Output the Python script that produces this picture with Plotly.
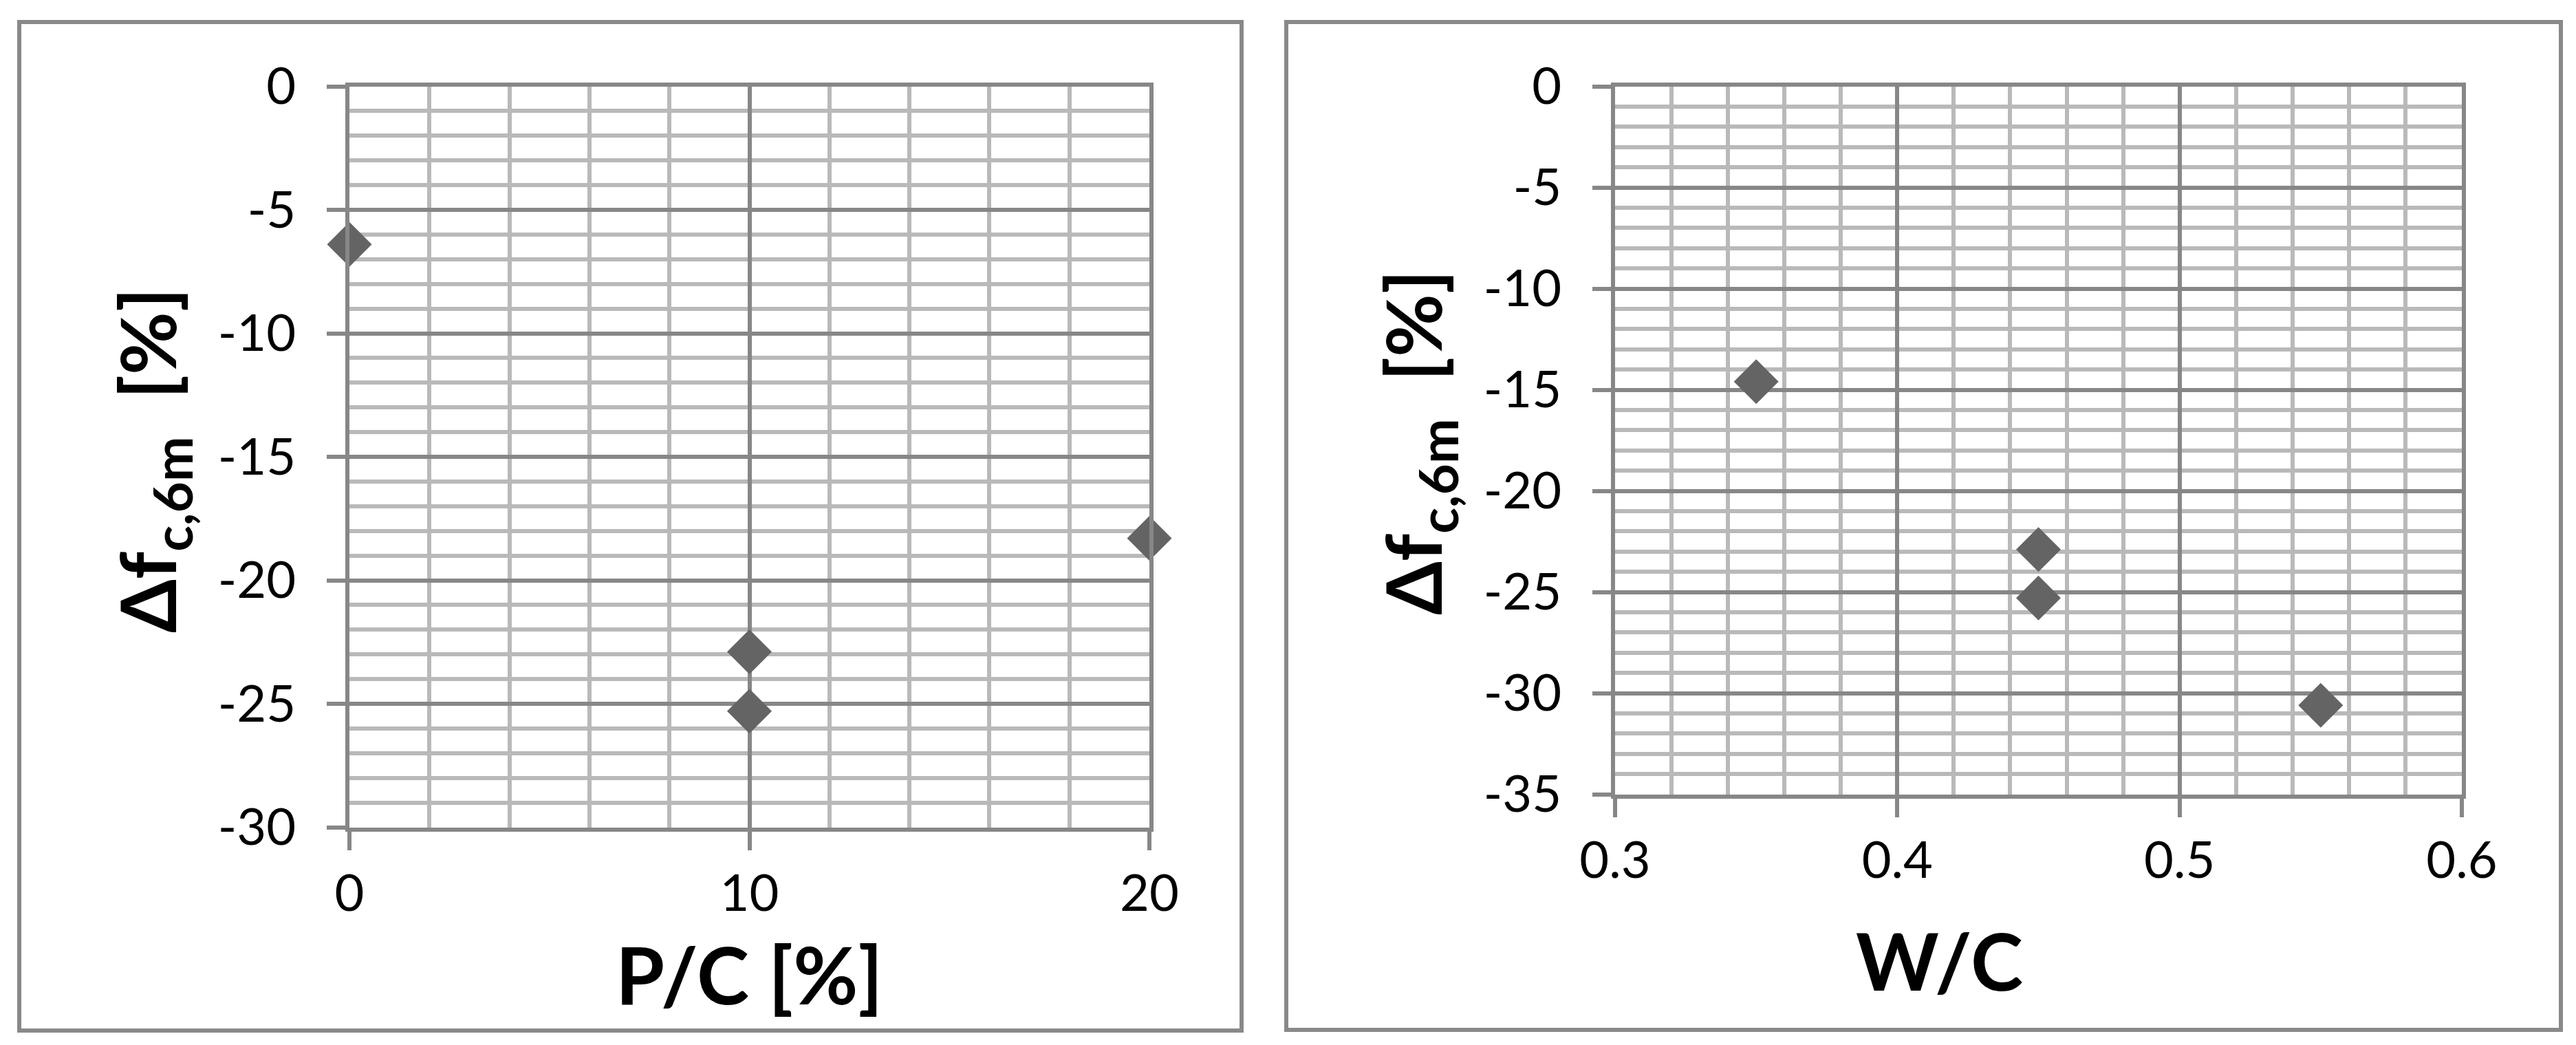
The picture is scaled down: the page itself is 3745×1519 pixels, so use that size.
import plotly.graph_objects as go

W, H = 3745, 1519

# ---- data ----
pc_x = [0, 10, 10, 20]
pc_y = [-6.4, -22.9, -25.3, -18.3]
wc_x = [0.35, 0.45, 0.45, 0.55]
wc_y = [-14.6, -22.9, -25.3, -30.6]

x1_ticks = [0, 10, 20]
x2_ticks = [0.3, 0.4, 0.5, 0.6]
x2_ticklabels = ["0.3", "0.4", "0.5", "0.6"]
y1_ticks = [0, -5, -10, -15, -20, -25, -30]
y2_ticks = [0, -5, -10, -15, -20, -25, -30, -35]

x1_title = "P/C [%]"
x2_title = "W/C"
y_title = "Δf<sub>c,6m</sub>\u00a0\u00a0[%]"

def px(x):
    return x / W

def py(y):
    return 1 - y / H

MAJOR = "#878787"
MINOR = "#b9b9b9"
BORDER = "#898989"
MARK = "#646464"
FONT = "Lato"

fig = go.Figure()
fig.add_trace(go.Scatter(x=pc_x, y=pc_y, mode="markers", xaxis="x", yaxis="y",
                         marker=dict(symbol="diamond", size=50, color=MARK, line=dict(width=0)),
                         cliponaxis=False, showlegend=False))
fig.add_trace(go.Scatter(x=wc_x, y=wc_y, mode="markers", xaxis="x2", yaxis="y2",
                         marker=dict(symbol="diamond", size=50, color=MARK, line=dict(width=0)),
                         cliponaxis=False, showlegend=False))

tickfont = dict(family=FONT, size=74, color="black")

def xaxis(dom, rng, minor_dtick, ticks, labels, anchor):
    return dict(domain=dom, range=rng, anchor=anchor, tickmode="array", tickvals=ticks, ticktext=labels,
                showgrid=True, gridcolor=MAJOR, gridwidth=6,
                minor=dict(dtick=minor_dtick, tick0=rng[0], showgrid=True, gridcolor=MINOR, gridwidth=6, ticks=""),
                zeroline=False, showline=True, linecolor=MAJOR, linewidth=6, mirror=True,
                ticks="outside", ticklen=27, tickwidth=6, tickcolor=MAJOR,
                tickfont=tickfont, ticklabelstandoff=0, automargin=False, fixedrange=True)

def yaxis(dom, rng, ticks, anchor):
    return dict(domain=dom, range=rng, tickmode="array", tickvals=ticks, ticktext=[str(t) for t in ticks],
                anchor=anchor,
                showgrid=True, gridcolor=MAJOR, gridwidth=6,
                minor=dict(dtick=1, tick0=0, showgrid=True, gridcolor=MINOR, gridwidth=6, ticks=""),
                zeroline=False, showline=True, linecolor=MAJOR, linewidth=6, mirror=True,
                ticks="outside", ticklen=27, tickwidth=6, tickcolor=MAJOR,
                tickfont=tickfont, ticklabelstandoff=30, automargin=False, fixedrange=True)

fig.update_layout(
    width=W, height=H,
    margin=dict(l=0, r=0, t=0, b=0, pad=0, autoexpand=False),
    paper_bgcolor="white", plot_bgcolor="white",
    xaxis=xaxis([px(500), px(1663)], [0, 20], 2, x1_ticks, [str(t) for t in x1_ticks], "y"),
    yaxis=yaxis([py(1194.5), py(117.5)], [-30, 0], y1_ticks, "x"),
    xaxis2=xaxis([px(2340), px(3571)], [0.3, 0.6], 0.02, x2_ticks, x2_ticklabels, "y2"),
    yaxis2=yaxis([py(1146.5), py(117.5)], [-35, 0], y2_ticks, "x2"),
)

# panel borders
for (x0, x1, y0, y1) in [(20, 1797, 24, 1490), (1862, 3715, 24, 1489)]:
    fig.add_shape(type="rect", xref="paper", yref="paper",
                  x0=px(x0), x1=px(x1), y0=py(y1), y1=py(y0),
                  line=dict(color=BORDER, width=6), fillcolor="rgba(0,0,0,0)", layer="below")

titlefont = dict(family=FONT, size=115, color="black")
ytitlefont = dict(family=FONT, size=112, color="black")
anns = [
    dict(text="<b>" + x1_title + "</b>", x=px(1081), y=py(1407), xanchor="center", yanchor="middle",
         textangle=0, font=titlefont),
    dict(text="<b>" + x2_title + "</b>", x=px(2811), y=py(1387), xanchor="center", yanchor="middle",
         textangle=0, font=titlefont),
    dict(text="<b>" + y_title + "</b>", x=px(213), y=py(661), xanchor="center", yanchor="middle",
         textangle=-90, font=ytitlefont),
    dict(text="<b>" + y_title + "</b>", x=px(2053), y=py(635), xanchor="center", yanchor="middle",
         textangle=-90, font=ytitlefont),
]
for a in anns:
    fig.add_annotation(xref="paper", yref="paper", showarrow=False, **a)

fig.write_html("out.html")
